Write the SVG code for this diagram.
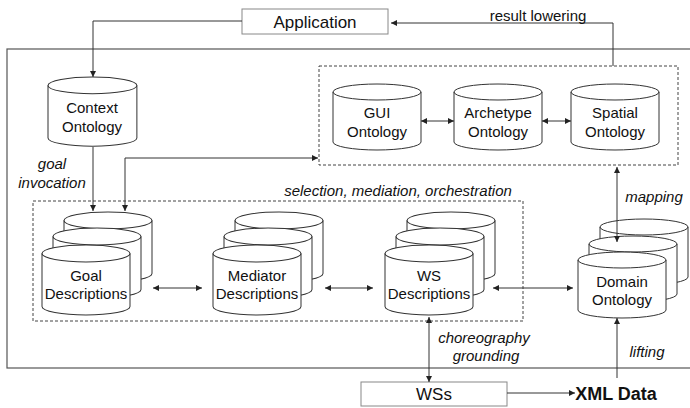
<svg xmlns="http://www.w3.org/2000/svg" width="690" height="408" viewBox="0 0 690 408">
  <defs>
    <marker id="ah" viewBox="0 0 10 10" refX="10" refY="5" markerWidth="6" markerHeight="6" orient="auto-start-reverse" markerUnits="userSpaceOnUse">
      <path d="M0,0 L10,5 L0,10 Z" fill="#222"/>
    </marker>
    <!-- cylinder outline, 88 wide, 66 tall -->
    <g id="cyl">
      <path d="M0,8 A44,8 0 0 1 88,8 V58 A44,8 0 0 1 0,58 Z" fill="#fff" stroke="#333" stroke-width="1"/>
      <path d="M0,8 A44,8 0 0 0 88,8" fill="none" stroke="#333" stroke-width="1"/>
    </g>
  </defs>
  <style>
    .lbl { font-family: "Liberation Sans", Arial, sans-serif; font-size: 15px; fill: #111; text-anchor: middle; }
    .it { font-family: "Liberation Sans", Arial, sans-serif; font-size: 15px; font-style: italic; fill: #111; text-anchor: middle; }
    .box { fill: #fff; stroke: #888; stroke-width: 1; }
    .dash { fill: none; stroke: #444; stroke-width: 1; stroke-dasharray: 3 2; }
    .conn { fill: none; stroke: #333; stroke-width: 1; }
    .one { marker-end: url(#ah); }
    .two { marker-start: url(#ah); marker-end: url(#ah); }
  </style>

  <rect width="690" height="408" fill="#fff"/>

  <!-- outer system frame -->
  <rect x="7" y="49" width="700" height="319" fill="none" stroke="#555" stroke-width="1.2"/>

  <!-- grouping boxes -->
  <rect class="dash" x="319" y="66" width="359" height="99"/>
  <rect class="dash" x="33" y="201" width="490" height="120"/>

  <g id="application">
    <rect class="box" x="242" y="9" width="146" height="25"/>
    <text class="lbl" x="315" y="28" style="font-size:17px">Application</text>
  </g>

  <g id="context-ontology">
    <use href="#cyl" transform="translate(48,77) scale(1.01,1.05)"/>
    <text class="lbl" x="92" y="113">Context</text>
    <text class="lbl" x="92" y="132">Ontology</text>
  </g>

  <g id="gui-ontology">
    <use href="#cyl" x="333" y="84"/>
    <text class="lbl" x="377" y="118">GUI</text>
    <text class="lbl" x="377" y="137">Ontology</text>
  </g>

  <g id="archetype-ontology">
    <use href="#cyl" x="454" y="84"/>
    <text class="lbl" x="498" y="118">Archetype</text>
    <text class="lbl" x="498" y="137">Ontology</text>
  </g>

  <g id="spatial-ontology">
    <use href="#cyl" x="571" y="84"/>
    <text class="lbl" x="615" y="118">Spatial</text>
    <text class="lbl" x="615" y="137">Ontology</text>
  </g>

  <g id="goal-descriptions">
    <use href="#cyl" transform="translate(64,212) scale(1,1.06)"/>
    <use href="#cyl" transform="translate(53,228) scale(1,1.06)"/>
    <use href="#cyl" transform="translate(42,245) scale(1,1.06)"/>
    <text class="lbl" x="86" y="281">Goal</text>
    <text class="lbl" x="86" y="299">Descriptions</text>
  </g>

  <g id="mediator-descriptions">
    <use href="#cyl" transform="translate(235,212) scale(1,1.06)"/>
    <use href="#cyl" transform="translate(224,228) scale(1,1.06)"/>
    <use href="#cyl" transform="translate(213,245) scale(1,1.06)"/>
    <text class="lbl" x="257" y="281">Mediator</text>
    <text class="lbl" x="257" y="299">Descriptions</text>
  </g>

  <g id="ws-descriptions">
    <use href="#cyl" transform="translate(407,212) scale(1,1.06)"/>
    <use href="#cyl" transform="translate(396,228) scale(1,1.06)"/>
    <use href="#cyl" transform="translate(385,245) scale(1,1.06)"/>
    <text class="lbl" x="429" y="281">WS</text>
    <text class="lbl" x="429" y="299">Descriptions</text>
  </g>

  <g id="domain-ontology">
    <use href="#cyl" x="600" y="219"/>
    <use href="#cyl" x="589" y="236"/>
    <use href="#cyl" x="578" y="252"/>
    <text class="lbl" x="622" y="287">Domain</text>
    <text class="lbl" x="622" y="305">Ontology</text>
  </g>

  <g id="wss">
    <rect class="box" x="361" y="382" width="146" height="24"/>
    <text class="lbl" x="434" y="400" style="font-size:17px">WSs</text>
  </g>

  <g id="xml-data">
    <text class="lbl" x="616" y="400" style="font-size:18px;font-weight:bold">XML Data</text>
  </g>

  <!-- connectors -->
  <g id="connectors">
    <polyline class="conn one" points="242,21 93,21 93,77"/>
    <polyline class="conn one" points="613,66 613,23 391,23"/>
    <line class="conn one" x1="93" y1="147" x2="93" y2="211"/>
    <polyline class="conn two" points="125,211 125,158 318,158"/>
    <line class="conn two" x1="421" y1="121" x2="454" y2="121"/>
    <line class="conn two" x1="542" y1="121" x2="571" y2="121"/>
    <line class="conn two" x1="153" y1="288" x2="202" y2="288"/>
    <line class="conn two" x1="325" y1="288" x2="373" y2="288"/>
    <line class="conn two" x1="493" y1="288" x2="573" y2="288"/>
    <line class="conn two" x1="617" y1="167" x2="617" y2="242"/>
    <line class="conn two" x1="429" y1="317" x2="429" y2="382"/>
    <line class="conn one" x1="617" y1="378" x2="617" y2="318"/>
    <line class="conn one" x1="507" y1="393" x2="575" y2="393"/>
  </g>

  <!-- connector labels -->
  <text class="lbl" x="538" y="21">result lowering</text>
  <text class="it" x="52" y="169">goal</text>
  <text class="it" x="52" y="188">invocation</text>
  <text class="it" x="398" y="196">selection, mediation, orchestration</text>
  <text class="it" x="654" y="202">mapping</text>
  <text class="it" x="484" y="343">choreography</text>
  <text class="it" x="486" y="361">grounding</text>
  <text class="it" x="647" y="357">lifting</text>
</svg>
